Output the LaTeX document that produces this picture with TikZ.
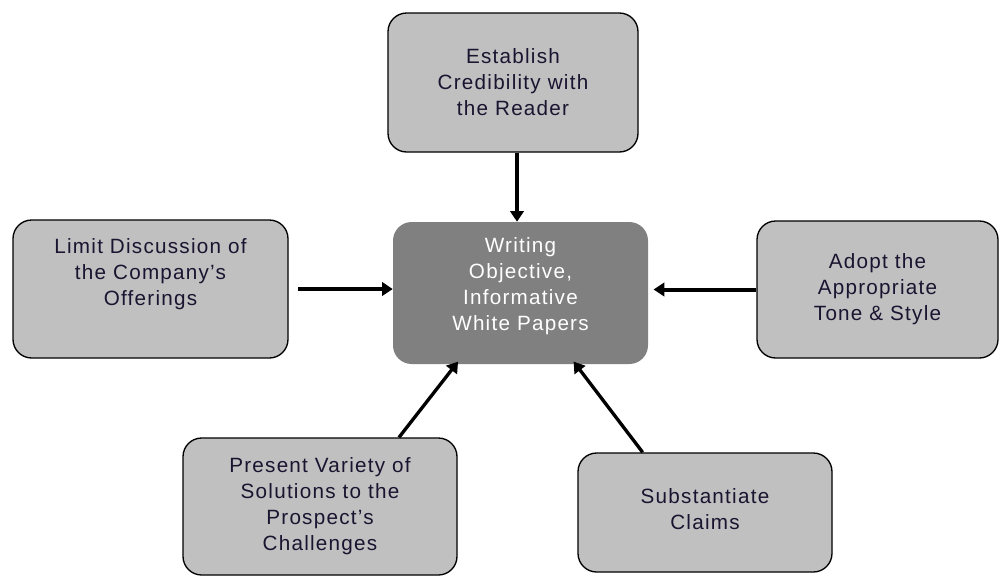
\documentclass[tikz,border=0pt]{standalone}
\usepackage{fontspec}
\setmainfont[LetterSpace=6]{Liberation Sans}
\usetikzlibrary{arrows.meta}

\definecolor{boxgray}{HTML}{C0C0C0}
\definecolor{coregray}{HTML}{808080}
\definecolor{boxtext}{HTML}{1A1430}

\begin{document}
\begin{tikzpicture}[
            x=0.75pt,y=-0.75pt,
            every node/.style={rectangle,rounded corners=14pt,align=center,
                font=\fontsize{15.5pt}{19.5pt}\selectfont,inner sep=0pt},
            goal/.style={draw=black,line width=1pt,fill=boxgray,text=boxtext},
            core/.style={fill=coregray,text=white},
            link/.style={line width=3pt,-{Triangle[length=8pt,width=10pt]}}
        ]
        \useasboundingbox (0,0) rectangle (999,576);
        \node[core,minimum width=255*0.75pt,minimum height=142*0.75pt,text depth=14pt] (core node) at (520.5,293)
            {Writing\\Objective,\\Informative\\White Papers};
        \node[goal,minimum width=250*0.75pt,minimum height=139*0.75pt] (credibility) at (513,82.5)
            {Establish\\Credibility with\\the Reader};
        \node[goal,minimum width=275*0.75pt,minimum height=138*0.75pt,text depth=25pt] (offerings) at (150.5,289)
            {Limit Discussion of\\the Company's\\Offerings};
        \node[goal,minimum width=241*0.75pt,minimum height=137*0.75pt] (tone) at (877.5,289.5)
            {Adopt the\\Appropriate\\Tone \& Style};
        \node[goal,minimum width=274*0.75pt,minimum height=137*0.75pt] (variety) at (320,506.5)
            {Present Variety of\\Solutions to the\\Prospect's\\Challenges};
        \node[goal,minimum width=254*0.75pt,minimum height=119*0.75pt,text depth=5pt] (claims) at (705,512.5)
            {Substantiate\\Claims};

        \draw[link] ([xshift=3pt]credibility.south) -- ([xshift=3pt]credibility.south |- core node.north);
        \draw[link,shorten <=7pt] (offerings.east) -- (core node.west |- offerings.east);
        \draw[link,shorten >=4pt] (tone.west) -- (core node.east |- tone.west);
        \draw[link,line width=2.5pt] ([xshift=-44pt]variety.north east) -- ([xshift=49pt,yshift=2pt]core node.south west);
        \draw[link,line width=2.5pt] ([xshift=49pt]claims.north west) -- ([xshift=-56pt,yshift=2pt]core node.south east);
    \end{tikzpicture}
\end{document}
